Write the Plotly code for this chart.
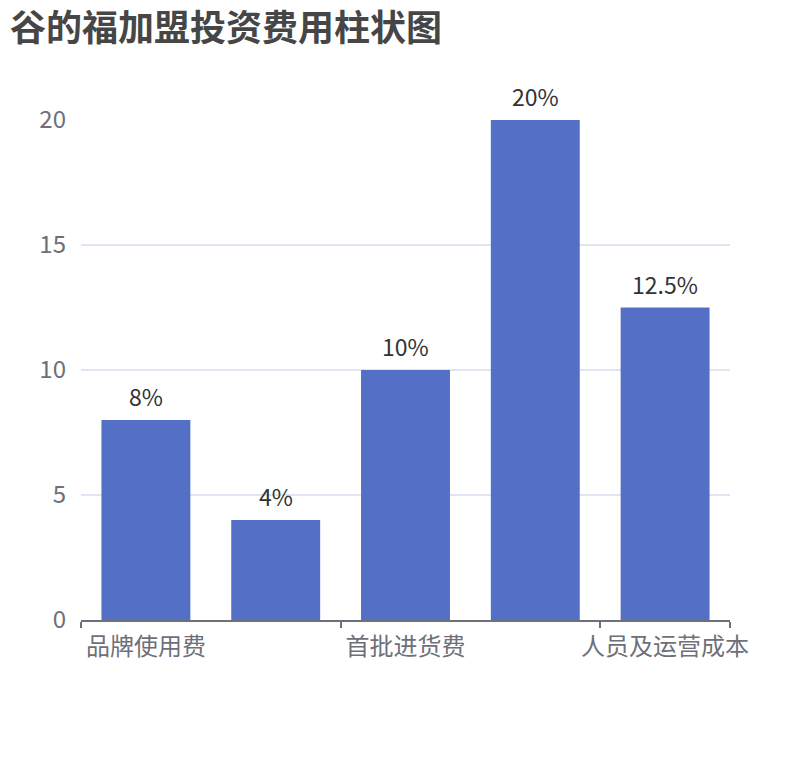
import plotly.graph_objects as go

title = "谷的福加盟投资费用柱状图"
categories = ["品牌使用费", "装修费用", "首批进货费", "设备费用", "人员及运营成本"]
values = [8, 4, 10, 20, 12.5]
labels = ["8%", "4%", "10%", "20%", "12.5%"]
shown_idx = [0, 2, 4]
y_ticks = [0, 5, 10, 15, 20]

FONT = "Noto Sans CJK SC, Microsoft YaHei, sans-serif"
x = list(range(len(categories)))

fig = go.Figure(go.Bar(
    x=x, y=values,
    marker=dict(color="#5470c6", line=dict(width=0)),
    width=0.685,
))
for xi, v, lab in zip(x, values, labels):
    fig.add_annotation(x=xi, y=v, text=lab, showarrow=False, yanchor="bottom", yshift=5,
                       font=dict(size=23, color="#333333", family=FONT))

fig.update_layout(
    width=810, height=760,
    margin=dict(l=73, r=88, t=112, b=148),
    plot_bgcolor="white", paper_bgcolor="white",
    showlegend=False,
    title=dict(text="<b>" + title + "</b>", x=2 / 810, xanchor="left", y=1 - 20 / 760, yanchor="middle",
               font=dict(size=36, color="#464646", family=FONT)),
    font=dict(family=FONT),
)
fig.update_xaxes(
    range=[-0.5, len(categories) - 0.5],
    tickmode="array", tickvals=shown_idx, ticktext=[categories[i] for i in shown_idx],
    ticks="", tickfont=dict(size=24, color="#6e7079", family=FONT),
    showline=True, linecolor="#6e7079", linewidth=1.5,
    showgrid=False, zeroline=False, ticklabelstandoff=4,
    minor=dict(tickmode="array", tickvals=[-0.5, 1.5, 3.5, 4.5], ticks="outside",
               ticklen=6, tickcolor="#6e7079", tickwidth=1.5, showgrid=False),
)
fig.update_yaxes(
    range=[0, 20], tickmode="array", tickvals=y_ticks,
    tickfont=dict(size=24, color="#6e7079", family=FONT),
    showgrid=True, gridcolor="#e0e6f1", gridwidth=1.5,
    zeroline=False, showline=False, ticks="", ticklabelstandoff=14,
)
fig.write_html("out.html")
